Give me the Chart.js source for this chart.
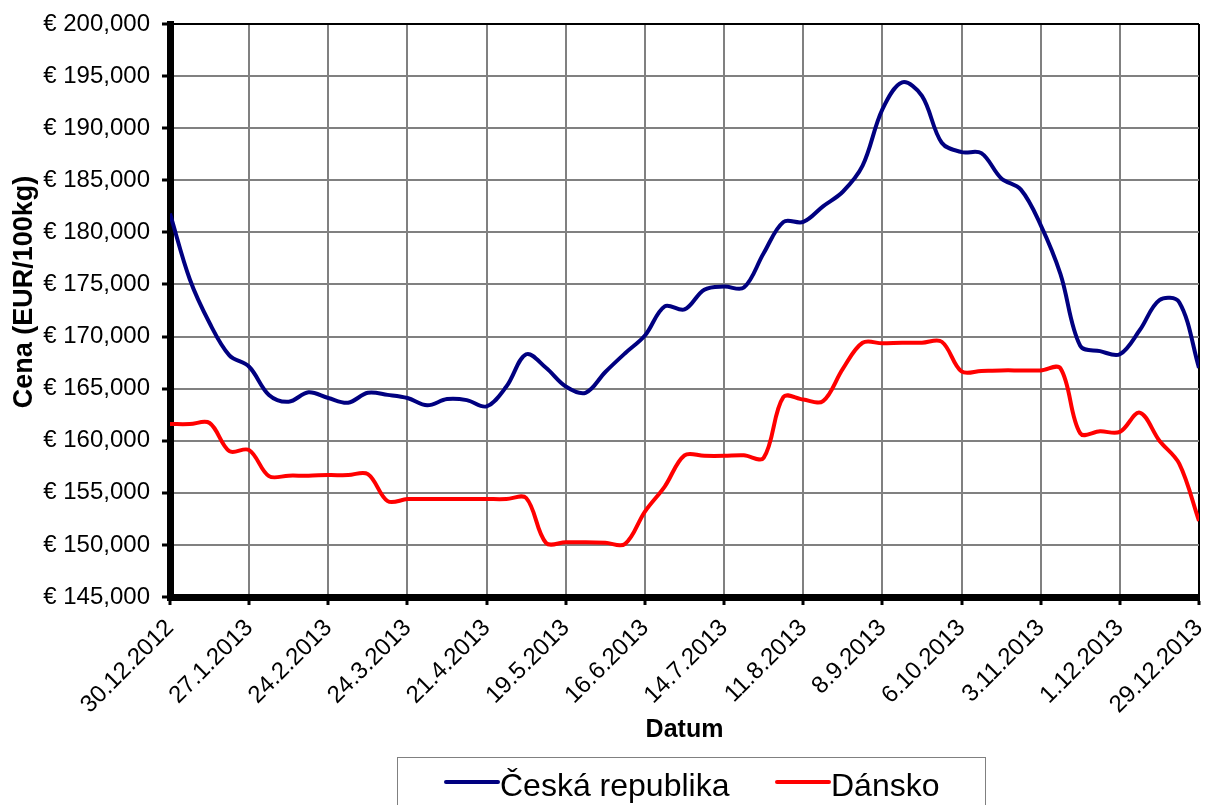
<!DOCTYPE html>
<html><head><meta charset="utf-8">
<script src="https://cdn.jsdelivr.net/npm/chart.js@4.4.0/dist/chart.umd.min.js"></script>
<style>html,body{margin:0;padding:0;background:#fff;overflow:hidden}#wrap{width:1206px;height:805px;position:relative}</style>
</head><body><div id="wrap"><canvas id="c" width="1206" height="805"></canvas></div>
<script>
const tickLabels = ['30.12.2012','27.1.2013','24.2.2013','24.3.2013','21.4.2013','19.5.2013','16.6.2013','14.7.2013','11.8.2013','8.9.2013','6.10.2013','3.11.2013','1.12.2013','29.12.2013'];
const seriesNames = ['Česká republika','Dánsko'];
const seriesColors = ['#000080','#FF0000'];
const czValues = [181800,175500,171300,168200,167100,164400,163750,164650,164100,163650,164600,164400,164100,163400,164000,163900,163300,165200,168300,167000,165200,164600,166600,168400,170100,172900,172600,174500,174800,174700,178000,181000,181000,182500,183900,186400,191800,194400,193100,188600,187700,187600,185200,184100,180700,176000,169100,168600,168300,170600,173500,173300,167000];
const dkValues = [161600,161600,161700,159000,159100,156600,156650,156650,156700,156700,156800,154200,154400,154400,154400,154400,154400,154400,154500,150200,150250,150250,150200,150100,153200,155600,158600,158550,158550,158600,158350,164200,163950,163800,166900,169400,169350,169400,169400,169500,166650,166700,166750,166750,166750,166950,160700,160900,160850,162700,160000,157800,152300];
const yMin = 145000, yMax = 200000, yStep = 5000;
const weeksPerTick = 4;
const yTitle = 'Cena (EUR/100kg)';
const xTitle = 'Datum';

const FONT = "'Liberation Sans', Arial, sans-serif";
function fmt(v){ return '€ ' + String(v).replace(/\B(?=(\d{3})+(?!\d))/g, ','); }

const extrasPlugin = {
  id: 'extras',
  afterDraw(chart){
    const ctx = chart.ctx;
    ctx.save();
    // y axis title
    ctx.save();
    ctx.translate(25, 292);
    ctx.rotate(-Math.PI/2);
    ctx.font = 'bold 27px ' + FONT;
    ctx.fillStyle = '#000';
    ctx.textAlign = 'center';
    ctx.textBaseline = 'middle';
    ctx.fillText(yTitle, 0, 0);
    ctx.restore();
    // legend box
    ctx.strokeStyle = '#808080';
    ctx.lineWidth = 1;
    ctx.strokeRect(397.5, 757.5, 588, 60);
    const items = [
      {x0:446, x1:498, tx:500},
      {x0:777, x1:829, tx:831}
    ];
    ctx.font = '32px ' + FONT;
    ctx.textBaseline = 'alphabetic';
    ctx.textAlign = 'left';
    items.forEach((it, i) => {
      ctx.strokeStyle = seriesColors[i];
      ctx.lineWidth = 4;
      ctx.lineCap = 'round';
      ctx.beginPath(); ctx.moveTo(it.x0, 782); ctx.lineTo(it.x1, 782); ctx.stroke();
      ctx.fillStyle = '#000';
      ctx.fillText(seriesNames[i], it.tx, 796);
    });
    ctx.restore();
  }
};

new Chart(document.getElementById('c'), {
  type: 'line',
  data: {
    datasets: [
      {label: seriesNames[0], data: czValues.map((v,i)=>({x:i,y:v})), borderColor: seriesColors[0], borderWidth: 4, pointRadius: 0, tension: 0.35, fill: false},
      {label: seriesNames[1], data: dkValues.map((v,i)=>({x:i,y:v})), borderColor: seriesColors[1], borderWidth: 4, pointRadius: 0, tension: 0.35, fill: false}
    ]
  },
  options: {
    responsive: false,
    animation: false,
    devicePixelRatio: 1,
    layout: {padding: {top: 24, right: 7, bottom: 50, left: 0}},
    plugins: {legend: {display: false}, tooltip: {enabled: false}},
    scales: {
      x: {
        type: 'linear', min: 0, max: (tickLabels.length-1)*weeksPerTick,
        ticks: {stepSize: weeksPerTick, autoSkip: false, maxRotation: 45, minRotation: 45, color: '#000', font: {family: FONT, size: 24}, padding: 9,
          callback: v => tickLabels[v/weeksPerTick]},
        grid: {color: c => (c.tick && c.tick.value === (tickLabels.length-1)*weeksPerTick) ? '#000' : '#808080', lineWidth: 2, tickColor: '#000', tickWidth: 3, tickLength: 8},
        border: {display: true, color: '#000', width: 7},
        title: {display: true, text: xTitle, color: '#000', font: {family: FONT, size: 25, weight: 'bold'}, padding: {top: 0, bottom: 10}},
        afterFit: s => { s.height = 158; s.paddingLeft = 0; s.paddingRight = 0; }
      },
      y: {
        min: yMin, max: yMax,
        ticks: {stepSize: yStep, color: '#000', font: {family: FONT, size: 24}, padding: 12, callback: v => fmt(v)},
        grid: {color: c => (c.tick && c.tick.value === yMax) ? '#000' : '#808080', lineWidth: 2, tickColor: '#000', tickWidth: 3, tickLength: 8},
        border: {display: true, color: '#000', width: 7},
        title: {display: false},
        afterFit: s => { s.width = 170; s.paddingTop = 0; s.paddingBottom = 0; }
      }
    }
  },
  plugins: [extrasPlugin]
});
</script>
</body></html>
